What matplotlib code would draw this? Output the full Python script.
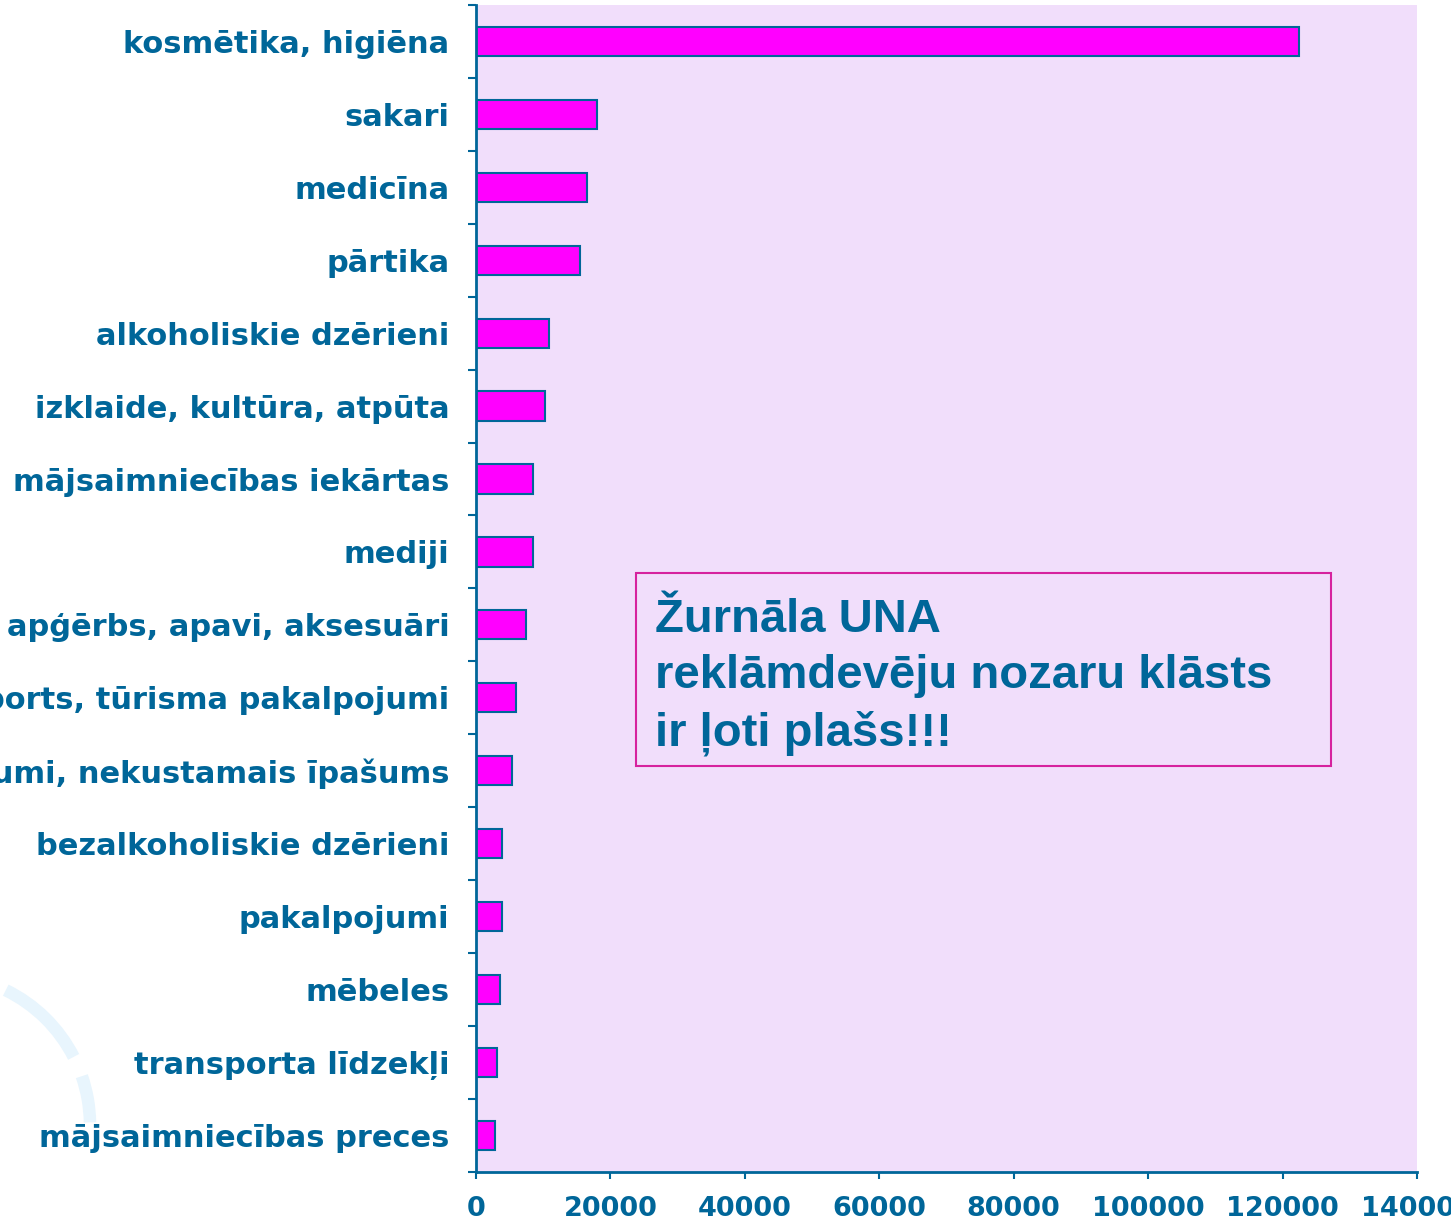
import numpy as np
import matplotlib
matplotlib.use("Agg")
import matplotlib.pyplot as plt
from matplotlib.patches import Arc, Rectangle

# advertiser industries (top to bottom) and their values
categories = [
    "kosmētika, higiēna",
    "sakari",
    "medicīna",
    "pārtika",
    "alkoholiskie dzērieni",
    "izklaide, kultūra, atpūta",
    "mājsaimniecības iekārtas",
    "mediji",
    "apģērbs, apavi, aksesuāri",
    "transports, tūrisma pakalpojumi",
    "finanšu pakalpojumi, nekustamais īpašums",
    "bezalkoholiskie dzērieni",
    "pakalpojumi",
    "mēbeles",
    "transporta līdzekļi",
    "mājsaimniecības preces",
]
values = [122500, 18000, 16500, 15500, 10900, 10300, 8500, 8500,
          7400, 6000, 5400, 3900, 3900, 3600, 3100, 2900]
x_ticks = [0, 20000, 40000, 60000, 80000, 100000, 120000, 140000]

blue = "#006699"
magenta = "#FF00FF"

fig = plt.figure(figsize=(14.51, 12.25), dpi=100)

# faint decorative arc in the lower left corner (background)
bg = fig.add_axes([0, 0, 1, 1], zorder=-1)
bg.set_xlim(0, 1451)
bg.set_ylim(1225, 0)
bg.axis("off")
for t1, t2 in [(-64, -27), (-19, -1)]:
    bg.add_patch(Arc((-60, 1125), 300, 300, theta1=t1, theta2=t2,
                     color="#E8F5FD", lw=9))

ax = fig.add_axes([0.328, 0.0433, 0.6486, 0.9527])
ax.set_facecolor("#F1DEFB")

y = np.arange(len(categories))
ax.barh(y, values, height=0.4, color=magenta, edgecolor=blue, linewidth=1.5)

ax.set_xlim(0, 140000)
ax.set_ylim(len(categories) - 0.5, -0.5)

ax.set_yticks(y)
ax.set_yticklabels(categories, fontsize=22, fontweight="bold", color=blue)
ax.set_yticks(np.arange(len(categories) + 1) - 0.5, minor=True)
ax.tick_params(axis="y", which="major", length=0, pad=19)
ax.tick_params(axis="y", which="minor", length=6, width=1.5, color=blue,
               direction="out")

ax.set_xticks(x_ticks)
ax.set_xticklabels([str(v) for v in x_ticks], fontsize=19.5,
                   fontweight="bold", color=blue)
ax.tick_params(axis="x", length=5, width=1.5, color=blue, pad=12)

for side in ["top", "right"]:
    ax.spines[side].set_visible(False)
for side in ["left", "bottom"]:
    ax.spines[side].set_color(blue)
    ax.spines[side].set_linewidth(2)

# callout box
fig.patches.append(Rectangle((0.4383, 0.3747), 0.479, 0.1576,
                             transform=fig.transFigure, fill=False,
                             edgecolor="#D6229E", linewidth=1.5))
box_lines = ["Žurnāla UNA", "reklāmdevēju nozaru klāsts", "ir ļoti plašs!!!"]
for i, line in enumerate(box_lines):
    fig.text(0.4514, 1 - (632 + 56.5 * i) / 1225, line, ha="left",
             va="baseline", fontsize=34, fontweight="bold", color=blue,
             family="Liberation Sans")

fig.savefig("out.png", dpi=100)
